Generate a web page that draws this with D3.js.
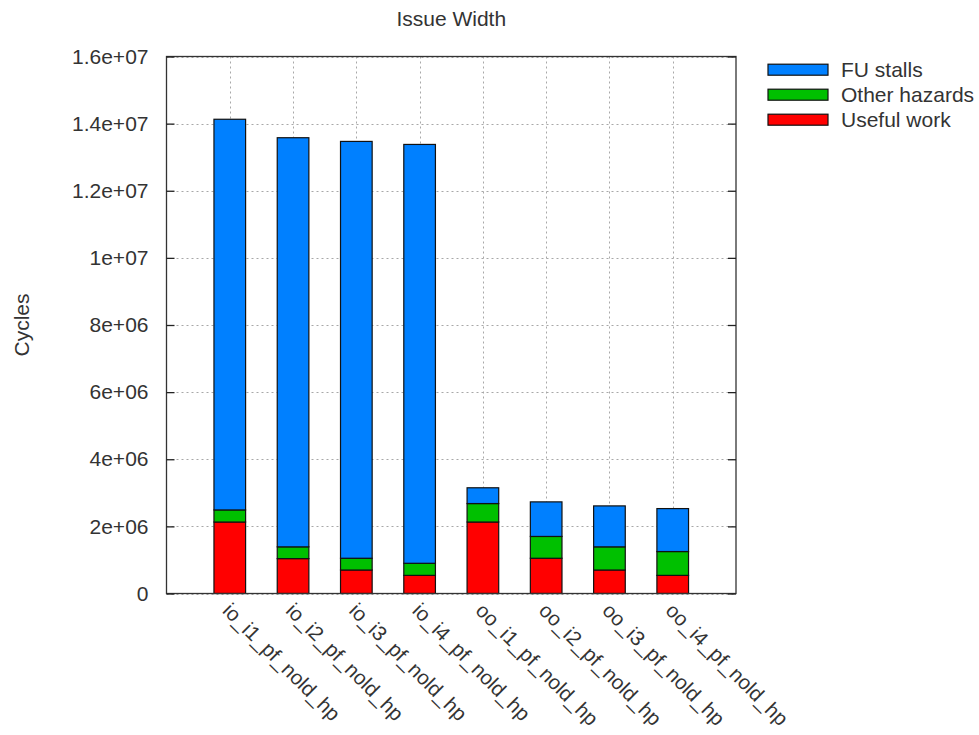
<!DOCTYPE html>
<html>
<head>
<meta charset="utf-8">
<script src="https://cdn.jsdelivr.net/npm/d3@7/dist/d3.min.js"></script>
<style>
  html, body { margin: 0; padding: 0; background: #fff; }
  svg { display: block; font-family: "Liberation Sans", Arial, sans-serif; }
</style>
</head>
<body>
<svg id="chart" width="979" height="735"></svg>
<script>
// Benchmark configurations along the x axis
const categories = [
  "io_i1_pf_nold_hp", "io_i2_pf_nold_hp", "io_i3_pf_nold_hp", "io_i4_pf_nold_hp",
  "oo_i1_pf_nold_hp", "oo_i2_pf_nold_hp", "oo_i3_pf_nold_hp", "oo_i4_pf_nold_hp"
];

// Cycle counts per component (stacked bottom to top)
const usefulWork   = [2.13e6, 1.04e6, 0.70e6, 0.54e6, 2.13e6, 1.05e6, 0.70e6, 0.54e6];
const otherHazards = [0.36e6, 0.35e6, 0.35e6, 0.36e6, 0.55e6, 0.65e6, 0.69e6, 0.71e6];
const fuStalls     = [11.64e6, 12.19e6, 12.42e6, 12.48e6, 0.47e6, 1.03e6, 1.22e6, 1.28e6];

const seriesNames  = ["Useful work", "Other hazards", "FU stalls"];
const seriesColors = ["#ff0000", "#00c000", "#0080ff"];

const yTickValues = [0, 2e6, 4e6, 6e6, 8e6, 10e6, 12e6, 14e6, 16e6];
const yTickLabels = ["0", "2e+06", "4e+06", "6e+06", "8e+06", "1e+07", "1.2e+07", "1.4e+07", "1.6e+07"];

const title = "Issue Width";
const yTitle = "Cycles";

const svg = d3.select("#chart");
const plot = { left: 166.5, right: 736, top: 56.5, bottom: 593.5 };
const fontSize = 21;

const x = d3.scaleLinear().domain([0, categories.length + 1]).range([plot.left, plot.right]);
const y = d3.scaleLinear().domain([0, 1.6e7]).range([plot.bottom, plot.top]);
const barHalf = 0.25;

// Grid (dotted) behind bars
const grid = svg.append("g").attr("stroke", "#a8a8a8").attr("stroke-width", 1)
  .attr("stroke-dasharray", "2,3");
grid.selectAll("line.h").data(yTickValues).join("line").attr("class", "h")
  .attr("x1", plot.left).attr("x2", plot.right)
  .attr("y1", d => Math.round(y(d)) + 0.5).attr("y2", d => Math.round(y(d)) + 0.5);
grid.selectAll("line.v").data(categories).join("line").attr("class", "v")
  .attr("x1", (d, i) => Math.round(x(i + 1)) + 0.5).attr("x2", (d, i) => Math.round(x(i + 1)) + 0.5)
  .attr("y1", plot.top).attr("y2", plot.bottom);

// Stacked bars
const rows = categories.map((c, i) => ({ usefulWork: usefulWork[i], otherHazards: otherHazards[i], fuStalls: fuStalls[i] }));
const stack = d3.stack().keys(["usefulWork", "otherHazards", "fuStalls"]);
const layers = stack(rows);

const barsG = svg.append("g");
layers.forEach((layer, k) => {
  barsG.append("g").attr("fill", seriesColors[k]).attr("stroke", "#111").attr("stroke-width", 1.2)
    .selectAll("rect").data(layer).join("rect")
    .attr("x", (d, i) => x(i + 1 - barHalf))
    .attr("width", (d, i) => x(i + 1 + barHalf) - x(i + 1 - barHalf))
    .attr("y", d => y(d[1]))
    .attr("height", d => y(d[0]) - y(d[1]));
});

// Border
svg.append("rect")
  .attr("x", plot.left).attr("y", plot.top)
  .attr("width", plot.right - plot.left).attr("height", plot.bottom - plot.top)
  .attr("fill", "none").attr("stroke", "#333").attr("stroke-width", 1.3);

// Y axis via d3 axis, ticks pointing inward on both sides
const yAxisL = d3.axisLeft(y).tickValues(yTickValues).tickFormat((d, i) => yTickLabels[i])
  .tickSizeInner(-8).tickSizeOuter(0).tickPadding(18);
const gL = svg.append("g").attr("transform", `translate(${plot.left},0)`).call(yAxisL);
gL.select(".domain").remove();
gL.selectAll("line").attr("stroke", "#222").attr("stroke-width", 1.3);
gL.selectAll("text").attr("font-size", fontSize).attr("fill", "#333")
  .attr("font-family", "Liberation Sans, Arial, sans-serif");

const yAxisR = d3.axisRight(y).tickValues(yTickValues).tickFormat("")
  .tickSizeInner(-8).tickSizeOuter(0);
const gR = svg.append("g").attr("transform", `translate(${plot.right},0)`).call(yAxisR);
gR.select(".domain").remove();
gR.selectAll("line").attr("stroke", "#222").attr("stroke-width", 1.3);

// X labels rotated -45deg (down-right)
svg.append("g").selectAll("text").data(categories).join("text")
  .attr("transform", (d, i) => `translate(${x(i + 1) - 3},${plot.bottom + 13}) rotate(45)`)
  .attr("font-size", 20.5).attr("fill", "#333")
  .attr("dominant-baseline", "central")
  .text(d => d);

// Title
svg.append("text").attr("x", (plot.left + plot.right) / 2).attr("y", 18)
  .attr("text-anchor", "middle").attr("dominant-baseline", "central")
  .attr("font-size", fontSize).attr("fill", "#333").text(title);

// Y title
svg.append("text")
  .attr("transform", `translate(21,${(plot.top + plot.bottom) / 2}) rotate(-90)`)
  .attr("text-anchor", "middle").attr("dominant-baseline", "central")
  .attr("font-size", fontSize).attr("fill", "#333").text(yTitle);

// Legend (top entry is the top of the stack)
const legendOrder = [2, 1, 0];
const legend = svg.append("g");
legendOrder.forEach((k, r) => {
  const cy = 69.7 + r * 25;
  legend.append("rect").attr("x", 768).attr("y", cy - 5.5).attr("width", 60).attr("height", 11)
    .attr("fill", seriesColors[k]).attr("stroke", "#111").attr("stroke-width", 1.2);
  legend.append("text").attr("x", 841).attr("y", cy).attr("dominant-baseline", "central")
    .attr("font-size", fontSize).attr("fill", "#333").text(seriesNames[k]);
});
</script>
</body>
</html>
